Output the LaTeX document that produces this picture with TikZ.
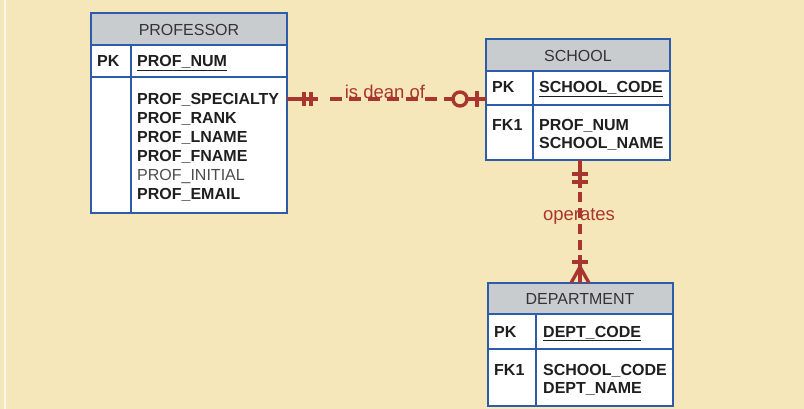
\documentclass[tikz,border=0pt]{standalone}
\usepackage{fontspec}
\setmainfont{Liberation Sans}
\definecolor{bgc}{HTML}{F6E7BB}
\definecolor{tblue}{HTML}{2D5DAA}
\definecolor{hgray}{HTML}{C9CCCF}
\definecolor{rred}{HTML}{A8362E}
\definecolor{htext}{HTML}{333333}
\tikzset{
  tbl/.style={draw=tblue, line width=2.6pt},
  hdr/.style={fill=hgray},
  rowfill/.style={fill=white},
  htxt/.style={font=\fontsize{16}{18}\selectfont, text=htext, inner sep=0pt},
  btxt/.style={font=\fontsize{16}{18}\selectfont\bfseries, text=black!88, anchor=base west, inner sep=0pt},
  ntxt/.style={font=\fontsize{16}{18}\selectfont, text=black!70, anchor=base west, inner sep=0pt},
  rel/.style={draw=rred, line width=3.4pt},
  reldash/.style={draw=rred, line width=3.4pt, dash pattern=on 12pt off 7pt},
  reldashv/.style={draw=rred, line width=3.4pt, dash pattern=on 10pt off 6pt},
  rlabel/.style={font=\fontsize{18.5}{20}\selectfont, text=rred, inner sep=0pt}
}
\newcommand{\ul}[1]{\underline{#1}}
\begin{document}
\begin{tikzpicture}[x=1pt,y=-1pt]
\fill[bgc] (0,0) rectangle (804,409);
\useasboundingbox (0,0) rectangle (804,409);
\draw[white, line width=1.5pt, opacity=0.7] (5,0) -- (5,409);

% PROFESSOR
\fill[hdr] (91,13) rectangle (287,45);
\fill[rowfill] (91,45) rectangle (287,213);
\draw[tbl] (91,13) rectangle (287,213);
\draw[tbl] (91,45) -- (287,45);
\draw[tbl] (91,77) -- (287,77);
\draw[tbl] (131,45) -- (131,213);
\node[htxt] (profh) at (189,30) {PROFESSOR};
\node[btxt] (profpk) at (97,67) {PK};
\node[btxt] (profnum) at (137,67) {\ul{PROF\_NUM}};
\node[btxt] (a1) at (137,105) {PROF\_SPECIALTY};
\node[btxt] (a2) at (137,124) {PROF\_RANK};
\node[btxt] (a3) at (137,143) {PROF\_LNAME};
\node[btxt] (a4) at (137,162) {PROF\_FNAME};
\node[ntxt] (a5) at (137,181) {PROF\_INITIAL};
\node[btxt] (a6) at (137,200) {PROF\_EMAIL};
\coordinate (profR) at (287,99);

% SCHOOL
\fill[hdr] (486,39) rectangle (670,71);
\fill[rowfill] (486,71) rectangle (670,160);
\draw[tbl] (486,39) rectangle (670,160);
\draw[tbl] (486,71) -- (670,71);
\draw[tbl] (486,105) -- (670,105);
\draw[tbl] (533,71) -- (533,160);
\node[htxt] (schh) at (578,56) {SCHOOL};
\node[btxt] (schpk) at (492,93) {PK};
\node[btxt] (schcode) at (539,93) {\ul{SCHOOL\_CODE}};
\node[btxt] (schfk) at (492,131) {FK1};
\node[btxt] (s1) at (539,131) {PROF\_NUM};
\node[btxt] (s2) at (539,149) {SCHOOL\_NAME};
\coordinate (schL) at (486,99);
\coordinate (schB) at (580,160);

% DEPARTMENT
\fill[hdr] (488,283) rectangle (673,314);
\fill[rowfill] (488,314) rectangle (673,406);
\draw[tbl] (488,283) rectangle (673,406);
\draw[tbl] (488,314) -- (673,314);
\draw[tbl] (488,349) -- (673,349);
\draw[tbl] (536,314) -- (536,406);
\node[htxt] (deph) at (580,299) {DEPARTMENT};
\node[btxt] (deppk) at (494,337) {PK};
\node[btxt] (depcode) at (543,337) {\ul{DEPT\_CODE}};
\node[btxt] (depfk) at (494,375) {FK1};
\node[btxt] (d1) at (543,375) {SCHOOL\_CODE};
\node[btxt] (d2) at (543,393) {DEPT\_NAME};
\coordinate (depT) at (580,283);

% is dean of
\coordinate (h1) at (318,99);
\coordinate (h2) at (452,99);
\coordinate (hc) at (460,99);
\draw[rel] (profR) -- (h1);
\draw[rel] (304,92) -- (304,106);
\draw[rel] (311,92) -- (311,106);
\draw[reldash] (330,99) -- (h2);
\draw[rel] (hc) circle (7pt);
\draw[rel] (467,99) -- (schL);
\draw[rel] (477,91) -- (477,107);
\node[rlabel, anchor=base] (isdean) at (385,99) {is dean of};

% operates
\draw[rel] (schB) -- (580,188);
\draw[rel] (572,174) -- (588,174);
\draw[rel] (572,182) -- (588,182);
\draw[reldashv] (580,192) -- (580,255);
\draw[rel] (580,255) -- (depT);
\draw[rel] (572,262) -- (588,262);
\draw[rel] (580,267) -- (571,283);
\draw[rel] (580,267) -- (589,283);
\node[rlabel, anchor=base] (oper) at (579,221) {operates};
\end{tikzpicture}
\end{document}
